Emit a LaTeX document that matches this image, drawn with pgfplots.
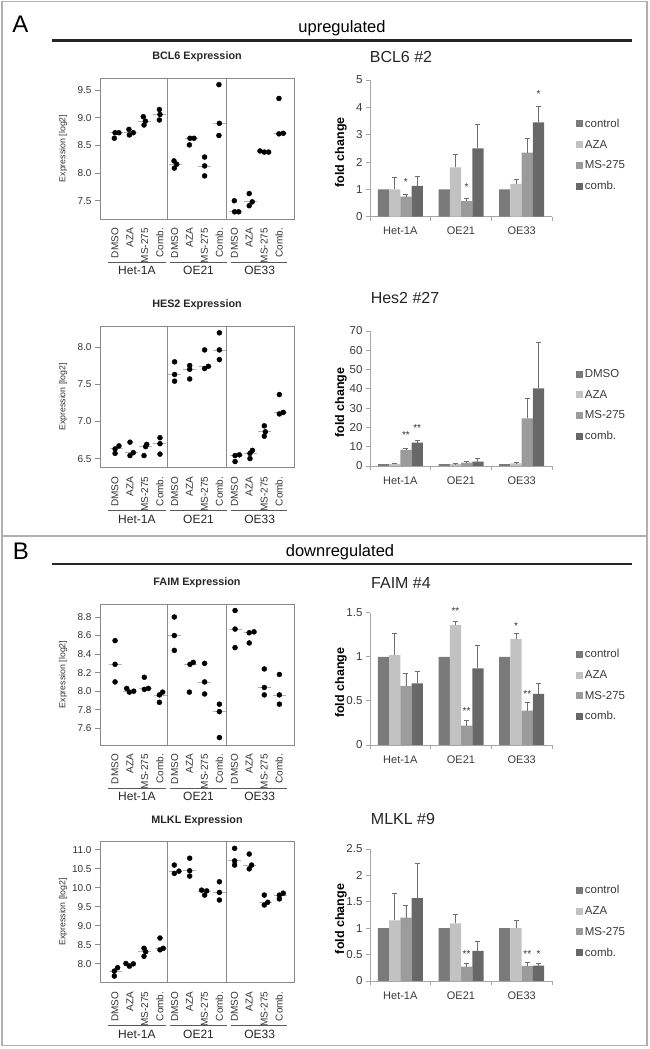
\documentclass[border=0pt]{standalone}
\usepackage{pgfplots}
\pgfplotsset{compat=1.18}
\usepackage{fontspec}
\setmainfont{Liberation Sans}
\definecolor{cctrl}{HTML}{7A7A7A}
\definecolor{caza}{HTML}{C2C2C2}
\definecolor{cms}{HTML}{9B9B9B}
\definecolor{ccomb}{HTML}{686868}
\definecolor{frame}{HTML}{8A8A8A}
\definecolor{axisc}{HTML}{A6A6A6}
\definecolor{errc}{HTML}{6E6E6E}
\definecolor{border}{HTML}{B0B0B0}
\definecolor{txt}{HTML}{333333}
\definecolor{txt2}{HTML}{3A3A3A}
\newcommand{\fs}[1]{\fontsize{#1}{#1}\selectfont}

\pgfplotsset{
  /pgf/number format/assume math mode=true,
  dotplot/.style={
    scale only axis, width=194pt, height=141pt, anchor=south west, clip=false,
    xmin=0, xmax=13,
    axis line style={frame, line width=0.9pt},
    tick align=outside, major tick length=5pt,
    xtick={1,...,12},
    xticklabels={DMSO,AZA,MS-275,Comb.,DMSO,AZA,MS-275,Comb.,DMSO,AZA,MS-275,Comb.},
    xticklabel style={rotate=90, anchor=east, font=\fs{10}, text=txt, inner sep=0pt},
    xticklabel shift=4pt,
    x tick style={draw=none},
    xtick pos=bottom,
    extra x ticks={4.5,8.5}, extra x tick labels={,},
    extra x tick style={grid=major, major grid style={frame, line width=1.3pt}, major tick length=0pt},
    ytick pos=left,
    y tick style={frame, line width=0.8pt},
    yticklabel style={font=\fs{10}, text=txt, /pgf/number format/.cd, fixed, fixed zerofill, precision=1},
    ylabel={Expression [log2]},
    ylabel style={font=\fs{8.8}, text=txt, at={(axis description cs:-0.19,0.5)}, anchor=center},
  },
  dots/.style={only marks, mark=*, mark size=2.5pt, mark options={fill=black, draw=black}},
  med/.style={only marks, mark=-, mark size=6.5pt, mark options={draw=gray!60, line width=0.8pt}},
  barplot/.style={
    scale only axis, width=182pt, anchor=south west, clip=false,
    ybar=0pt, bar width=11.25pt,
    xmin=-0.5, xmax=2.5, ymin=0,
    axis lines*=left,
    axis line style={draw=axisc, line width=0.8pt},
    tick align=outside, major tick length=4pt,
    xtick={-0.5,0.5,1.5,2.5}, xticklabels={,,,},
    extra x ticks={0,1,2}, extra x tick labels={Het-1A,OE21,OE33},
    extra x tick style={major tick length=0pt},
    x tick style={axisc, line width=0.8pt},
    y tick style={axisc, line width=0.8pt},
    xticklabel style={font=\fs{11}, text=txt2, yshift=-7pt},
    yticklabel style={font=\fs{11.5}, text=txt2},
    ylabel={fold change},
    ylabel style={font=\bfseries\fs{12.5}, text=black, at={(axis description cs:-0.16,0.47)}, anchor=center},
    legend style={at={(1.13,0.45)}, anchor=west, draw=none, fill=none, font=\fs{11.5}, text=txt2,
      row sep=6.3pt, inner sep=0pt, nodes={text height=8.5pt, text depth=2pt, inner sep=2pt}},
    legend cell align=left,
  },
  sq/.style={draw=none, legend image code/.code={\fill[##1] (0pt,-3.5pt) rectangle (7pt,3.5pt);}},
  eb/.style={error bars/.cd, y dir=plus, y explicit,
    error bar style={color=errc, line width=0.8pt},
    error mark options={rotate=90, mark size=2.5pt, color=errc, line width=0.8pt}},
}
\tikzset{
  grp/.style={draw=black!65, line width=0.8pt},
  grplab/.style={font=\fs{12}, text=black!85, anchor=base},
  star/.style={font=\fs{10}, text=txt, inner sep=0pt},
  dtitle/.style={font=\bfseries\fs{10.8}, text=black!85},
  btitle/.style={font=\fs{16}, text=black!85},
}
\newcommand{\groups}{%
  \draw[grp] ([yshift=-43pt]axis description cs:0.042,0) -- ([yshift=-43pt]axis description cs:0.338,0);
  \draw[grp] ([yshift=-43pt]axis description cs:0.362,0) -- ([yshift=-43pt]axis description cs:0.654,0);
  \draw[grp] ([yshift=-43pt]axis description cs:0.677,0) -- ([yshift=-43pt]axis description cs:0.965,0);
  \node[grplab] at ([yshift=-56pt]axis description cs:0.19,0) {Het-1A};
  \node[grplab] at ([yshift=-56pt]axis description cs:0.508,0) {OE21};
  \node[grplab] at ([yshift=-56pt]axis description cs:0.823,0) {OE33};
}

\begin{document}
\begin{tikzpicture}[x=1pt,y=1pt]
\useasboundingbox (0,0) rectangle (649,1049);
\draw[border, line width=1.6pt] (2,3.5) rectangle (647,1047.5);
\draw[border, line width=1.6pt] (2,513) -- (647,513);

% headers
\node[font=\fs{24}, anchor=base] at (20.5,1016) {A};
\node[font=\fs{16.5}, anchor=base] at (342,1016) {upregulated};
\draw[line width=2.8pt, black!85] (52,1008.3) -- (632,1008.3);
\node[font=\fs{24}, anchor=base] at (21,489) {B};
\node[font=\fs{16.5}, anchor=base] at (340,492) {downregulated};
\draw[line width=2.8pt, black!85] (52,485) -- (632,485);

% titles
\node[dtitle] at (197,992.5) {BCL6 Expression};
\node[btitle] at (401,992) {BCL6 \#2};
\node[dtitle] at (197,744) {HES2 Expression};
\node[btitle] at (405,751) {Hes2 \#27};
\node[dtitle] at (197,466.3) {FAIM Expression};
\node[btitle] at (401,466) {FAIM \#4};
\node[dtitle] at (197,228.3) {MLKL Expression};
\node[btitle] at (403,230) {MLKL \#9};

% ---- BCL6 dot plot
\begin{axis}[dotplot, at={(100pt,830pt)}, ymin=7.17, ymax=9.72, ytick={7.5,8.0,8.5,9.0,9.5}]
\addplot[med] coordinates {(1.08,8.73)(2.05,8.73)(2.96,8.94)(3.99,9.06)(5.03,8.16)(6.11,8.63)(7.01,8.13)(7.98,8.90)(9.1,7.30)(10.07,7.48)(11.01,8.38)(12.09,8.72)};
\addplot[dots] coordinates {
(0.96,8.63)(1.01,8.73)(1.27,8.73)
(1.94,8.79)(1.97,8.69)(2.23,8.73)
(2.90,9.02)(3.04,8.94)(2.95,8.87)
(3.98,9.15)(4.02,9.06)(3.98,8.96)
(4.96,8.22)(5.14,8.16)(4.98,8.09)
(5.99,8.51)(6.03,8.63)(6.30,8.63)
(7.01,8.29)(7.01,8.13)(7.01,7.95)
(7.97,9.60)(8.00,8.90)(7.97,8.68)
(9.00,7.50)(9.02,7.30)(9.29,7.30)
(10.0,7.63)(10.0,7.41)(10.2,7.48)
(10.72,8.40)(11.01,8.38)(11.30,8.38)
(11.99,9.35)(11.99,8.71)(12.28,8.72)};
\groups
\end{axis}

% ---- HES2 dot plot
\begin{axis}[dotplot, at={(100pt,581.5pt)}, ymin=6.38, ymax=8.275, ytick={6.5,7.0,7.5,8.0}]
\addplot[med] coordinates {(1.1,6.63)(2.08,6.58)(3.05,6.66)(4.02,6.70)(5.0,7.63)(6.01,7.70)(7.09,7.74)(8.0,7.96)(9.15,6.54)(10.1,6.57)(11.03,6.86)(12.1,7.12)};
\addplot[dots] coordinates {
(1.01,6.57)(1.01,6.63)(1.27,6.67)
(2.01,6.72)(2.01,6.54)(2.23,6.58)
(2.95,6.54)(3.06,6.66)(3.13,6.69)
(4.02,6.78)(4.02,6.70)(4.02,6.56)
(5.00,7.80)(5.00,7.63)(5.00,7.54)
(6.01,7.75)(6.01,7.70)(6.01,7.57)
(7.01,7.96)(7.01,7.71)(7.26,7.74)
(8.00,8.19)(8.00,7.96)(8.00,7.83)
(9.05,6.46)(9.05,6.54)(9.34,6.55)
(10.05,6.50)(10.05,6.57)(10.21,6.61)
(11.01,6.94)(11.08,6.86)(11.01,6.80)
(12.02,7.36)(12.02,7.10)(12.28,7.12)};
\groups
\end{axis}

% ---- FAIM dot plot
\begin{axis}[dotplot, at={(100pt,304pt)}, ymin=7.42, ymax=8.94, ytick={7.6,7.8,8.0,8.2,8.4,8.6,8.8}]
\addplot[med] coordinates {(1.01,8.29)(2.0,8.00)(3.06,8.03)(4.05,7.96)(4.98,8.60)(6.09,8.29)(7.01,8.10)(8.0,7.78)(9.05,8.67)(10.1,8.63)(11.01,8.04)(12.02,7.96)};
\addplot[dots] coordinates {
(1.01,8.545)(1.01,8.29)(1.01,8.10)
(1.79,8.03)(1.97,7.99)(2.26,8.00)
(2.97,8.15)(2.97,8.02)(3.24,8.03)
(3.98,7.88)(3.98,7.96)(4.20,7.99)
(4.98,8.80)(4.98,8.60)(4.98,8.44)
(5.99,7.99)(6.03,8.29)(6.25,8.31)
(7.01,8.30)(7.01,8.10)(7.01,7.97)
(8.00,7.86)(8.00,7.78)(8.00,7.50)
(9.05,8.87)(9.05,8.67)(9.05,8.47)
(10.0,8.52)(10.0,8.63)(10.32,8.64)
(11.01,8.24)(11.01,8.04)(11.01,7.96)
(12.02,8.18)(12.02,7.96)(12.02,7.86)};
\groups
\end{axis}

% ---- MLKL dot plot
\begin{axis}[dotplot, at={(100pt,66.5pt)}, ymin=7.51, ymax=11.22, ytick={8.0,8.5,9.0,9.5,10.0,10.5,11.0}]
\addplot[med] coordinates {(1.03,7.81)(1.98,8.00)(2.99,8.32)(4.09,8.41)(5.08,10.44)(6.01,10.45)(6.99,9.92)(8.0,9.88)(9.02,10.71)(10.05,10.60)(11.09,9.62)(12.1,9.81)};
\addplot[dots] coordinates {
(0.96,7.68)(0.96,7.81)(1.18,7.90)
(1.74,8.01)(1.97,7.94)(2.23,8.00)
(2.95,8.41)(3.06,8.32)(2.95,8.20)
(4.02,8.68)(4.02,8.37)(4.24,8.41)
(4.98,10.60)(4.98,10.38)(5.29,10.44)
(6.01,10.78)(6.01,10.45)(6.01,10.31)
(6.81,9.94)(7.01,9.81)(7.15,9.92)
(8.00,10.16)(8.00,9.88)(8.00,9.68)
(9.02,11.04)(9.02,10.71)(9.02,10.60)
(10.0,10.89)(10.0,10.50)(10.16,10.60)
(11.01,9.81)(11.01,9.55)(11.24,9.62)
(12.02,9.81)(12.02,9.71)(12.28,9.86)};
\groups
\end{axis}

% ---- BCL6 bars
\begin{axis}[barplot, at={(370pt,832.3pt)}, height=136.7pt, ymax=5, ytick={0,1,2,3,4,5}]
\addplot[sq, fill=cctrl] coordinates {(0,1)(1,1)(2,1)};
\addplot[sq, fill=caza, eb] coordinates {(0,1.0) +- (0,0.43) (1,1.80) +- (0,0.48) (2,1.20) +- (0,0.17)};
\addplot[sq, fill=cms, eb] coordinates {(0,0.73) +- (0,0.10) (1,0.57) +- (0,0.10) (2,2.34) +- (0,0.53)};
\addplot[sq, fill=ccomb, eb] coordinates {(0,1.13) +- (0,0.36) (1,2.50) +- (0,0.88) (2,3.45) +- (0,0.59)};
\legend{control,AZA,MS-275,comb.}
\node[star, xshift=5.6pt] at (axis cs:0,1.26) {*};
\node[star, xshift=5.6pt] at (axis cs:1,1.08) {*};
\node[star, xshift=16.9pt] at (axis cs:2,4.49) {*};
\end{axis}

% ---- Hes2 bars
\begin{axis}[barplot, at={(370pt,583pt)}, height=135pt, ymax=70, ytick={0,10,...,70}]
\addplot[sq, fill=cctrl] coordinates {(0,1)(1,1)(2,1)};
\addplot[sq, fill=caza, eb] coordinates {(0,1.1) +- (0,0.2) (1,1.0) +- (0,0.2) (2,1.4) +- (0,0.3)};
\addplot[sq, fill=cms, eb] coordinates {(0,8.3) +- (0,0.9) (1,1.7) +- (0,0.7) (2,24.7) +- (0,10.4)};
\addplot[sq, fill=ccomb, eb] coordinates {(0,12.1) +- (0,1.0) (1,2.2) +- (0,1.8) (2,40.2) +- (0,23.7)};
\legend{DMSO,AZA,MS-275,comb.}
\node[star, xshift=5.6pt] at (axis cs:0,16.1) {**};
\node[star, xshift=16.9pt] at (axis cs:0,19.5) {**};
\end{axis}

% ---- FAIM bars
\begin{axis}[barplot, at={(370pt,304pt)}, height=132.3pt, ymax=1.5, ytick={0,0.5,1,1.5}]
\addplot[sq, fill=cctrl] coordinates {(0,1)(1,1)(2,1)};
\addplot[sq, fill=caza, eb] coordinates {(0,1.02) +- (0,0.24) (1,1.36) +- (0,0.04) (2,1.20) +- (0,0.06)};
\addplot[sq, fill=cms, eb] coordinates {(0,0.67) +- (0,0.14) (1,0.22) +- (0,0.06) (2,0.39) +- (0,0.09)};
\addplot[sq, fill=ccomb, eb] coordinates {(0,0.70) +- (0,0.13) (1,0.87) +- (0,0.26) (2,0.58) +- (0,0.12)};
\legend{control,AZA,MS-275,comb.}
\node[star, xshift=-5.6pt] at (axis cs:1,1.52) {**};
\node[star, xshift=5.6pt] at (axis cs:1,0.39) {**};
\node[star, xshift=-5.6pt] at (axis cs:2,1.35) {*};
\node[star, xshift=5.6pt] at (axis cs:2,0.58) {**};
\end{axis}

% ---- MLKL bars
\begin{axis}[barplot, at={(370pt,68pt)}, height=132pt, ymax=2.5, ytick={0,0.5,1,1.5,2,2.5}]
\addplot[sq, fill=cctrl] coordinates {(0,1)(1,1)(2,1)};
\addplot[sq, fill=caza, eb] coordinates {(0,1.15) +- (0,0.51) (1,1.09) +- (0,0.18) (2,1.0) +- (0,0.15)};
\addplot[sq, fill=cms, eb] coordinates {(0,1.20) +- (0,0.24) (1,0.27) +- (0,0.06) (2,0.28) +- (0,0.07)};
\addplot[sq, fill=ccomb, eb] coordinates {(0,1.57) +- (0,0.66) (1,0.57) +- (0,0.18) (2,0.29) +- (0,0.04)};
\legend{control,AZA,MS-275,comb.}
\node[star, xshift=5.6pt] at (axis cs:1,0.51) {**};
\node[star, xshift=5.6pt] at (axis cs:2,0.51) {**};
\node[star, xshift=16.9pt] at (axis cs:2,0.51) {*};
\end{axis}
\end{tikzpicture}
\end{document}
